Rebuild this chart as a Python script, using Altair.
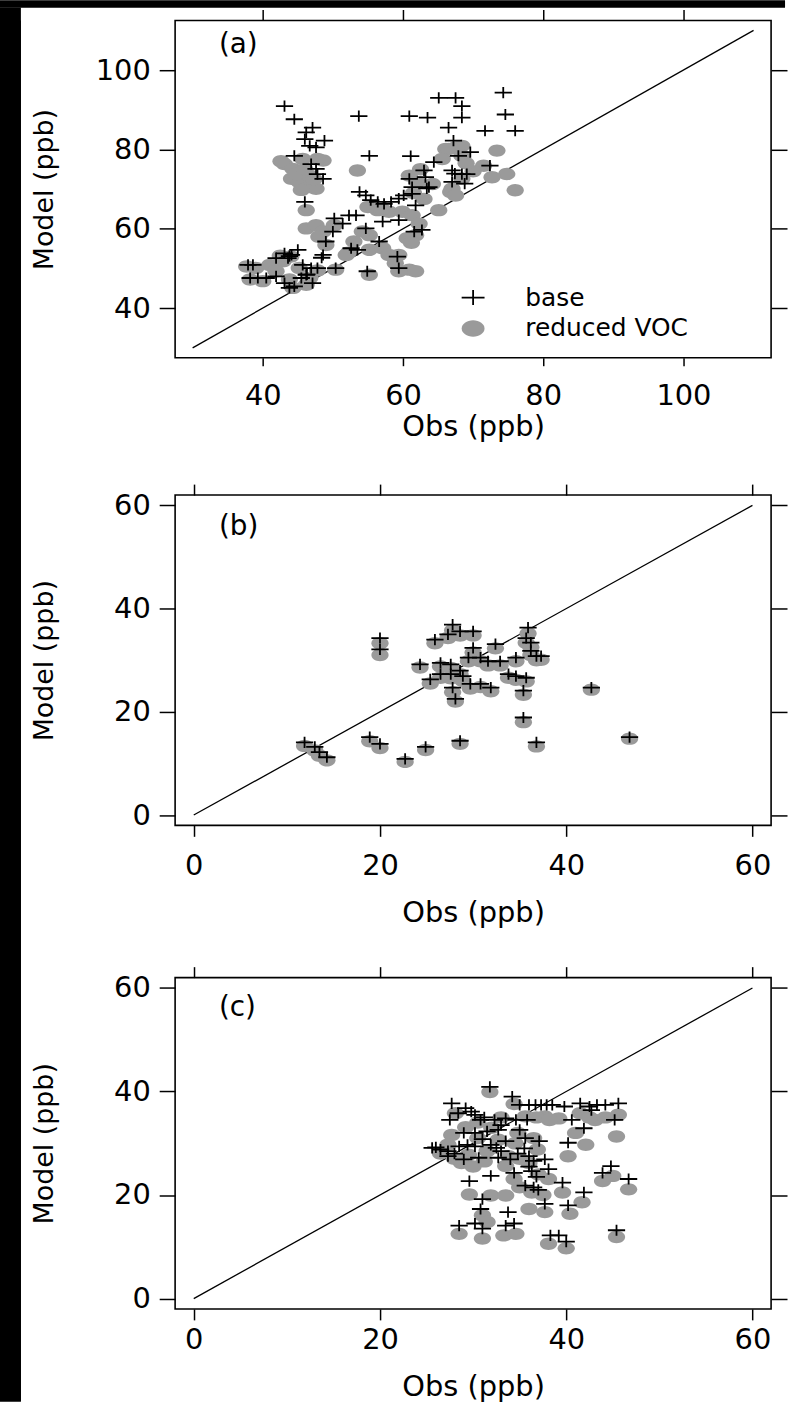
import altair as alt
import pandas as pd

FONT = "DejaVu Sans"
GRAY = "#9a9a9a"
PLUS_PATH = "M-1,0L1,0M0,-0.65L0,0.65"
ELLIPSE_PATH = "M-1,0A1,0.72,0,1,1,1,0A1,0.72,0,1,1,-1,0Z"
SERIES = ["base", "reduced VOC"]

# ---------------- panel (a) ----------------
a_base_obs = [43.1, 44.5, 47.1, 46.2, 46.0, 48.8, 46.7, 47.6, 44.5, 46.9, 47.6, 47.8, 48.6, 46.0,
              53.7, 55.2, 60.9, 63.5, 61.1, 65.1, 67.5, 68.4, 68.4, 66.5, 67.2, 67.9, 64.4, 63.0,
              67.0, 68.4, 60.9, 63.2, 67.0, 63.7, 61.3, 74.3, 74.6, 71.7, 76.0, 69.6, 72.4, 69.1,
              53.8, 54.7, 55.4, 56.4, 57.3, 58.3, 59.4, 60.1, 61.3, 61.8, 50.2, 52.3, 51.4, 53.3,
              54.7, 57.1, 59.4, 61.6, 62.7, 50.0, 49.0, 56.6, 52.6, 53.5, 48.6, 59.2, 59.4, 54.9,
              50.4, 37.9, 38.6, 41.9, 43.1, 44.1, 45.0, 43.6, 45.7, 46.9, 47.8, 38.2, 39.3, 40.5,
              41.9, 43.1, 43.8, 44.5, 45.5, 47.1, 46.2, 48.4, 46.3, 43.8, 67.4, 68.8, 63.4]
a_base_mod = [90.9, 87.6, 85.5, 84.3, 82.6, 82.2, 80.9, 80.5, 78.4, 76.3, 75.1, 73.8, 72.6, 66.8,
              88.4, 78.4, 88.4, 88.0, 78.3, 93.0, 93.0, 90.9, 88.0, 85.5, 82.2, 78.4, 76.8, 74.7,
              74.7, 73.8, 72.6, 73.0, 71.8, 70.5, 70.5, 94.3, 88.8, 84.7, 84.7, 79.3, 75.9, 73.8,
              69.3, 68.4, 67.2, 66.8, 66.3, 66.8, 67.6, 68.4, 68.8, 65.9, 62.6, 63.4, 61.3, 63.4,
              60.1, 61.8, 62.2, 59.3, 59.7, 59.3, 56.8, 56.8, 55.1, 54.7, 53.4, 53.0, 50.1, 49.3,
              50.1, 50.9, 50.9, 52.6, 53.8, 53.4, 54.7, 52.6, 50.9, 50.1, 50.1, 47.6, 47.6, 47.6,
              48.0, 46.3, 45.1, 45.5, 47.6, 46.3, 48.4, 52.7, 48.5, 53.1, 73.9, 71.4, 70.2]
a_red_obs = [43.1, 44.3, 44.1, 45.2, 46.7, 47.6, 48.6, 47.8, 45.7, 46.7, 42.6, 44.8, 46.0, 47.3, 45.5,
             53.5, 46.2, 46.2, 47.6, 48.6, 50.2, 49.0, 48.0, 53.0, 55.2, 54.2, 52.2,
             56.4, 58.0, 59.9, 61.3, 62.3, 65.1, 55.0, 57.0,
             55.2, 57.1, 51.9, 58.0, 59.4, 58.9, 60.9, 61.8, 55.2, 59.4, 50.4, 60.6, 61.8, 61.2,
             60.9, 62.0, 64.2, 66.1, 67.5, 67.0, 62.5, 61.5, 63.0,
             73.4, 66.5, 68.4, 65.6, 68.4, 71.5, 74.8, 72.7, 76.0, 66.8, 68.4, 67.5, 70.0, 69.0,
             37.7, 39.0, 38.2, 41.0, 42.9, 41.9, 43.8, 45.2, 46.7, 44.3, 46.2, 40.0, 47.8, 44.0, 42.5]
a_red_mod = [76.3, 75.1, 72.6, 71.8, 70.5, 70.1, 77.2, 77.6, 77.6, 73.4, 77.0, 73.8, 75.0, 72.5, 69.8,
             74.7, 64.7, 60.1, 60.9, 59.3, 60.9, 55.9, 58.0, 56.8, 58.4, 59.3, 54.0,
             64.7, 64.3, 64.3, 63.4, 61.3, 64.7, 65.5, 65.0,
             54.7, 55.1, 53.4, 53.4, 53.4, 51.3, 49.7, 49.3, 48.4, 49.3, 49.7, 57.6, 58.4, 56.5,
             73.4, 71.8, 71.3, 80.1, 80.5, 70.1, 75.0, 69.0, 67.5,
             79.7, 80.1, 80.9, 77.6, 78.4, 75.9, 73.8, 73.0, 69.7, 69.3, 72.6, 68.4, 74.5, 76.5,
             50.5, 50.1, 47.2, 50.9, 51.8, 49.3, 47.2, 50.1, 47.6, 45.1, 45.9, 46.8, 49.5, 53.0, 53.2]
a_ticks = [40, 60, 80, 100]
a_diag = [30, 110]
a_domain = [27.5, 112.5]

# ---------------- panel (b) ----------------
b_obs = [11.9, 13.0, 13.5, 14.3, 18.9, 20.0, 20.0, 20.0, 22.7, 24.9, 28.6, 36.8, 35.4, 42.7, 46.8,
         24.3, 25.9, 27.3, 27.8, 28.6, 30.0, 25.4, 26.5, 27.6, 27.8, 28.1, 28.6, 29.5, 30.0, 29.7,
         30.8, 31.9, 31.6, 32.9, 32.4, 33.8, 34.6, 35.7, 35.4, 35.7, 35.9, 36.2, 36.2, 36.8, 37.3,
         34.6, 27.6, 26.5, 30.8, 28.9]
b_base_mod = [14.1, 13.2, 12.2, 11.2, 15.1, 13.8, 34.3, 32.1, 10.9, 13.2, 14.4, 14.1, 18.9, 24.7, 15.1,
              29.2, 34.0, 35.0, 36.9, 35.6, 35.6, 26.3, 29.5, 27.3, 24.7, 22.5, 28.0, 30.5, 32.4, 25.4,
              25.4, 24.7, 29.8, 29.8, 33.1, 27.3, 26.9, 26.6, 24.1, 34.3, 36.3, 33.4, 31.8, 30.8, 30.8,
              30.5, 29.2, 27.3, 30.5, 26.9]
b_red_mod = [13.4, 12.5, 11.5, 10.6, 14.3, 13.0, 33.3, 31.0, 10.3, 12.6, 13.8, 13.3, 18.0, 24.3, 14.8,
             28.6, 33.3, 34.3, 35.8, 34.8, 34.8, 25.5, 28.8, 26.5, 23.8, 22.0, 27.3, 29.8, 31.5, 24.5,
             24.8, 24.0, 29.0, 29.0, 32.3, 26.6, 26.2, 25.9, 23.3, 33.4, 35.2, 32.5, 31.0, 30.0, 30.1,
             29.8, 28.5, 26.6, 29.8, 26.0]

# ---------------- panel (c) ----------------
c_base_obs = [31.8, 34.2, 27.7, 29.2, 29.8, 30.2, 35.0, 36.0, 36.7, 37.3, 37.9, 38.5, 39.8, 41.5, 42.5,
              43.3, 44.2, 45.6, 27.5, 30.8, 32.3, 33.5, 34.6, 35.8, 40.6, 42.7, 45.2, 41.9, 29.0, 30.2,
              31.5, 32.7, 35.0, 35.6, 37.1, 40.2, 25.6, 26.5, 27.3, 28.5, 29.4, 30.2, 31.9, 32.5, 33.5,
              27.3, 29.0, 30.6, 32.7, 34.0, 36.0, 36.5, 37.7, 34.4, 36.3, 38.1, 31.9, 29.6, 35.6, 36.5,
              39.6, 41.9, 44.8, 43.9, 46.7, 37.7, 40.2, 31.0, 30.8, 33.75, 28.5, 30.2, 31.0, 33.5, 34.4,
              38.3, 39.2, 40.0, 45.4, 26.0, 28.0, 31.0, 33.0, 34.8, 36.0, 37.0, 33.0, 31.2, 28.4, 35.5,
              36.8]
c_base_mod = [40.9, 39.0, 37.7, 36.8, 36.1, 35.5, 37.4, 37.4, 37.4, 37.4, 37.4, 37.4, 37.1, 37.7, 37.1,
              37.4, 37.4, 37.7, 34.5, 34.5, 34.5, 34.8, 34.5, 34.5, 34.5, 36.4, 34.5, 32.9, 32.0, 32.0,
              32.3, 32.6, 32.6, 31.0, 30.4, 30.1, 29.1, 28.8, 28.5, 29.4, 29.7, 29.4, 29.7, 29.1, 30.4,
              27.5, 26.9, 27.2, 27.2, 26.9, 27.5, 26.6, 26.9, 24.3, 24.6, 25.0, 23.7, 22.7, 21.8, 21.5,
              22.4, 20.5, 25.6, 24.3, 23.1, 18.3, 18.0, 19.2, 17.3, 16.7, 14.1, 14.5, 13.5, 14.1, 14.5,
              12.2, 12.2, 11.0, 13.2, 29.2, 28.0, 30.8, 28.5, 28.0, 25.5, 21.0, 33.5, 35.0, 35.8, 29.0,
              23.5]
c_red_obs = [31.8, 28.1, 34.4, 37.7, 39.2, 41.5, 43.1, 45.6, 45.4, 41.0, 42.1, 40.2, 27.7, 29.2, 27.3,
             28.75, 32.7, 34.8, 33.5, 36.9, 36.0, 34.4, 38.1, 36.3, 29.6, 31.9, 33.5, 39.6, 41.7, 43.9,
             45.0, 46.7, 36.0, 37.7, 40.4, 31.0, 28.5, 31.0, 33.3, 34.6, 38.1, 40.0, 45.4, 31.5, 35.6,
             30.5, 32.0, 33.0, 36.8, 38.2, 42.5, 44.2, 26.5, 29.5, 30.5, 31.5, 33.8, 35.0, 36.5, 34.5,
             35.0, 37.0, 37.5, 28.0, 30.0, 31.2]
c_red_mod = [39.9, 35.8, 37.6, 35.2, 34.8, 35.8, 34.5, 35.5, 31.3, 32.0, 29.7, 27.5, 31.6, 33.1, 29.7,
             26.2, 30.7, 32.0, 25.6, 28.8, 26.2, 23.1, 23.1, 20.5, 20.1, 19.9, 19.9, 20.5, 18.6, 22.7,
             23.7, 21.1, 17.3, 16.7, 16.4, 16.1, 12.5, 11.6, 12.2, 12.5, 10.6, 9.7, 11.9, 14.8, 35.2,
             34.0, 33.0, 35.0, 35.0, 34.5, 35.0, 35.0, 28.0, 27.8, 31.0, 28.5, 27.5, 27.0, 31.0, 30.0,
             21.5, 24.0, 20.0, 27.0, 25.5, 26.5]
bc_ticks = [0, 20, 40, 60]
bc_diag = [0, 60]
bc_domain = [-2, 62]

PLOT_W = 599


def points_frame(base_obs, base_mod, red_obs, red_mod):
    red = pd.DataFrame({"obs": red_obs, "model": red_mod, "series": "reduced VOC"})
    base = pd.DataFrame({"obs": base_obs, "model": base_mod, "series": "base"})
    return pd.concat([red, base], ignore_index=True)


def panel(label, pts, diag, domain, ticks, height, bottom_tick, label_pad, title_pad, label_y,
          with_legend):
    xs = alt.Scale(domain=domain, nice=False, zero=False)
    ys = alt.Scale(domain=domain, nice=False, zero=False)
    line_df = pd.DataFrame({"obs": diag, "model": diag})
    line = alt.Chart(line_df).mark_line(color="black", strokeWidth=1.3).encode(
        x=alt.X("obs:Q", scale=xs,
                axis=alt.Axis(orient="bottom", values=ticks, title="Obs (ppb)",
                              tickSize=bottom_tick, labelPadding=label_pad,
                              titlePadding=title_pad, labelFlush=False)),
        y=alt.Y("model:Q", scale=ys,
                axis=alt.Axis(orient="left", values=ticks, title="Model (ppb)",
                              tickSize=16, labelPadding=9, titleX=-117, titleFontSize=27)),
    )
    if with_legend:
        leg = alt.Legend(orient="none", legendX=287, legendY=266, title=None,
                         labelFont=FONT, labelFontSize=25, labelColor="black", labelLimit=400,
                         symbolSize=529, symbolStrokeWidth=1.8, rowPadding=5,
                         labelOffset=40, padding=0)
    else:
        leg = None
    dots = alt.Chart(pts).mark_point(size=300, opacity=1, strokeWidth=1.8).encode(
        x=alt.X("obs:Q", scale=xs,
                axis=alt.Axis(orient="top", values=ticks, labels=False, tickSize=11, title=None)),
        y=alt.Y("model:Q", scale=ys,
                axis=alt.Axis(orient="right", values=ticks, labels=False, tickSize=16, title=None)),
        shape=alt.Shape("series:N", scale=alt.Scale(domain=SERIES, range=[PLUS_PATH, ELLIPSE_PATH]),
                        legend=leg),
        fill=alt.Fill("series:N", scale=alt.Scale(domain=SERIES, range=["transparent", GRAY]),
                      legend=leg),
        stroke=alt.Stroke("series:N", scale=alt.Scale(domain=SERIES, range=["black", "transparent"]),
                          legend=leg),
    )
    tag = alt.Chart(pd.DataFrame({"label": [label]})).mark_text(
        align="left", baseline="top", font=FONT, fontSize=28, color="black"
    ).encode(x=alt.value(44), y=alt.value(label_y), text="label:N")
    return alt.layer(line, dots, tag).properties(width=PLOT_W, height=height)


pa = panel("(a)", points_frame(a_base_obs, a_base_mod, a_red_obs, a_red_mod), a_diag, a_domain,
           a_ticks, 339, 8, 16, 2, 11, True)
pb = panel("(b)", points_frame(b_obs, b_base_mod, b_obs, b_red_mod), bc_diag, bc_domain,
           bc_ticks, 332, 11, 15, 19, 18, False)
pc = panel("(c)", points_frame(c_base_obs, c_base_mod, c_red_obs, c_red_mod), bc_diag, bc_domain,
           bc_ticks, 333, 11, 6, 18, 17, False)

strip_df = pd.DataFrame({"v": [0]})


def strip(w, h, top=0):
    return alt.Chart(strip_df).mark_rect(color="black").encode(
        x=alt.value(0), x2=alt.value(w), y=alt.value(top), y2=alt.value(h)
    ).properties(width=w, height=h,
                 view=alt.ViewBackground(fill="black", stroke="transparent", strokeWidth=0))


lower = alt.vconcat(pb, pc, spacing=36).resolve_scale(
    shape="independent", fill="independent", stroke="independent")
panels = alt.vconcat(pa, lower, spacing=40).resolve_scale(
    shape="independent", fill="independent", stroke="independent")
body = alt.hconcat(strip(21, 1388, top=-13), panels, spacing=9)
chart = alt.vconcat(strip(789, 7), body, spacing=0).properties(
    padding={"top": -3, "left": 0, "right": 0, "bottom": 0}, background="white"
).configure_view(
    stroke="black", strokeWidth=1.6
).configure_axis(
    labelFont=FONT, labelFontSize=29, labelColor="black",
    titleFont=FONT, titleFontSize=29, titleFontWeight="normal", titleColor="black",
    tickColor="black", tickWidth=1.5, domain=False, grid=False
).configure_legend(
    labelFont=FONT
)

chart.save("out.html", embed_options={"renderer": "svg", "actions": False})
